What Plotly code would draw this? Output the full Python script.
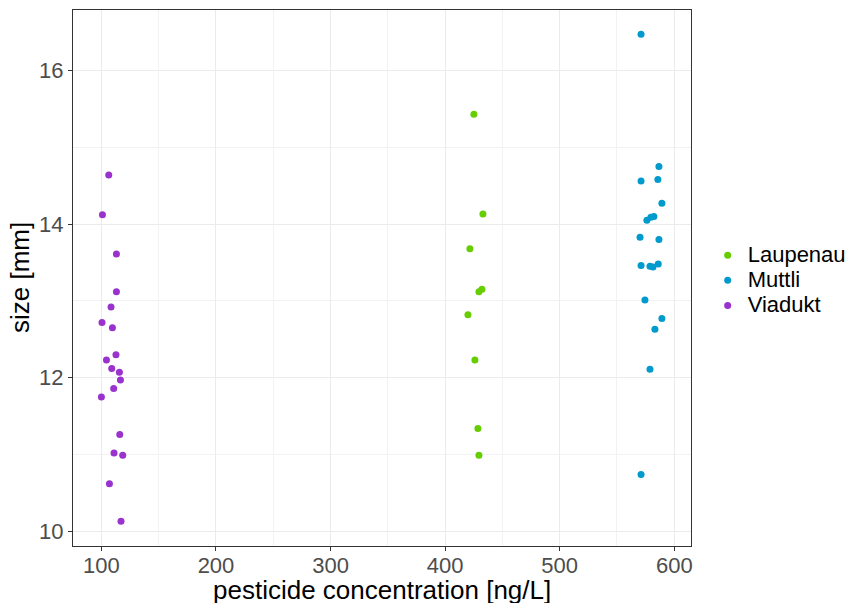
import plotly.graph_objects as go

# Data
laupenau_x = [425.1, 433.0, 421.6, 432.1, 429.5, 419.9, 426.0, 428.6, 429.5]
laupenau_y = [15.43, 14.13, 13.68, 13.15, 13.12, 12.82, 12.23, 11.34, 10.99]

muttli_x = [571.0, 586.6, 571.0, 585.7, 589.2, 582.2, 579.6, 576.1, 570.1, 586.6,
            571.0, 578.8, 581.4, 586.0, 574.4, 589.2, 583.1, 578.8, 571.0]
muttli_y = [16.47, 14.75, 14.56, 14.58, 14.27, 14.10, 14.09, 14.05, 13.83, 13.80,
            13.46, 13.45, 13.44, 13.48, 13.01, 12.77, 12.63, 12.11, 10.74]

viadukt_x = [106.4, 100.9, 113.1, 113.1, 108.4, 100.5, 109.6, 112.7, 104.4, 109.0,
             115.7, 116.6, 110.7, 100.0, 116.0, 111.0, 118.6, 107.0, 117.1]
viadukt_y = [14.64, 14.12, 13.61, 13.12, 12.92, 12.72, 12.65, 12.30, 12.23, 12.12,
             12.07, 11.97, 11.86, 11.75, 11.26, 11.02, 10.99, 10.62, 10.13]

x_ticks = [100, 200, 300, 400, 500, 600]
y_ticks = [10, 12, 14, 16]
x_title = "pesticide concentration [ng/L]"
y_title = "size [mm]"

series = [
    ("Laupenau", laupenau_x, laupenau_y, "#66CD00"),
    ("Muttli", muttli_x, muttli_y, "#009ACD"),
    ("Viadukt", viadukt_x, viadukt_y, "#9A32CD"),
]

fig = go.Figure()
for name, xs, ys, col in series:
    fig.add_trace(go.Scatter(
        x=xs, y=ys, mode="markers",
        name=f"<span style='font-size:22px'>{name}</span>",
        marker=dict(color=col, size=7, line=dict(width=0))))

font = "Liberation Sans, Arial, Helvetica, sans-serif"
axis_common = dict(
    showline=True, linecolor="#333333", linewidth=1, mirror=True,
    ticks="outside", ticklen=4, tickcolor="#333333", tickwidth=1,
    gridcolor="#EBEBEB", gridwidth=1, zeroline=False, automargin=False,
    tickfont=dict(family=font, size=22, color="#4D4D4D"),
)

fig.update_layout(
    width=870, height=603,
    margin=dict(l=73, r=179, t=10, b=57),
    plot_bgcolor="white", paper_bgcolor="white",
    font=dict(family=font),
    xaxis=dict(range=[75.2, 614.6], tickvals=x_ticks, ticklabelstandoff=-4,
               minor=dict(tickvals=[150, 250, 350, 450, 550], showgrid=True,
                          gridcolor="#F2F2F2", ticks=""),
               **axis_common),
    yaxis=dict(range=[9.809, 16.787], tickvals=y_ticks,
               minor=dict(tickvals=[11, 13, 15], showgrid=True,
                          gridcolor="#F2F2F2", ticks=""),
               **axis_common),
    legend=dict(x=1.027, xanchor="left", y=0.495, yanchor="middle",
                font=dict(family=font, size=17, color="black"),
                itemsizing="trace", tracegroupgap=0, bgcolor="rgba(0,0,0,0)"),
    annotations=[
        dict(text=x_title, xref="paper", yref="paper", x=0.5, y=0,
             xanchor="center", yanchor="middle", yshift=-44, showarrow=False,
             font=dict(family=font, size=26, color="black")),
        dict(text=y_title, xref="paper", yref="paper", x=0, y=0.5,
             xanchor="center", yanchor="middle", xshift=-53, textangle=-90,
             showarrow=False, font=dict(family=font, size=26, color="black")),
    ],
)

fig.write_html("out.html", config={"displayModeBar": False},
               post_script="document.body.style.margin='0';"
                           "document.body.style.overflow='hidden';")
